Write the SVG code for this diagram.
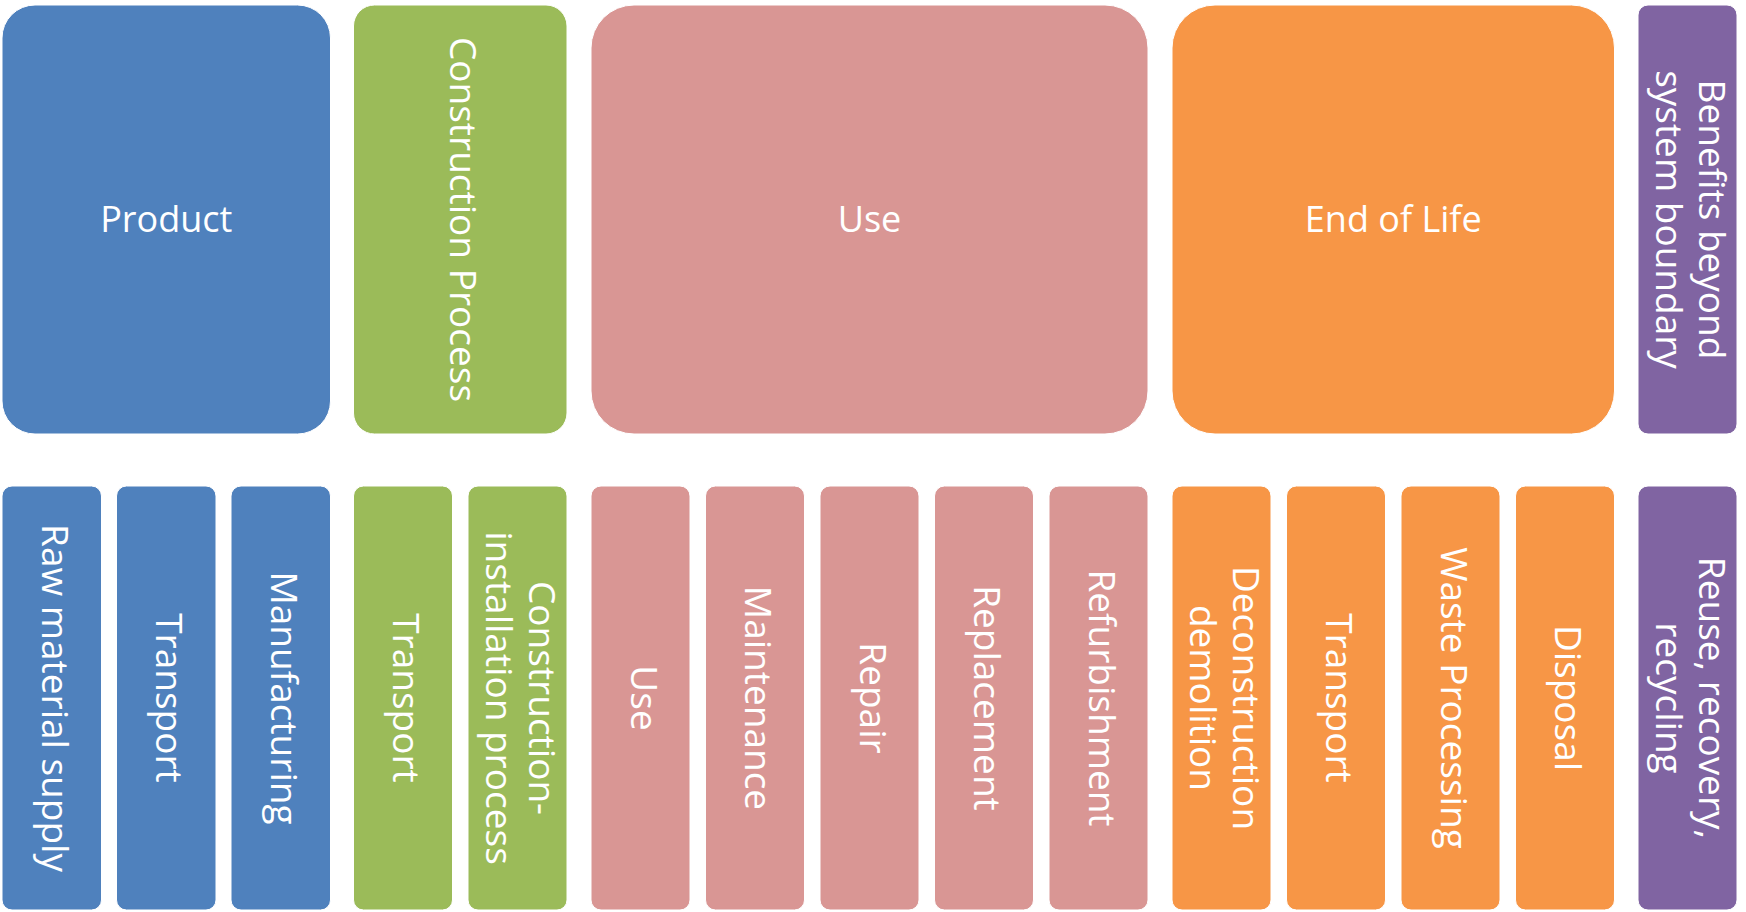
<svg xmlns="http://www.w3.org/2000/svg" width="1746" height="912" viewBox="0 0 1746 912">
  <style>
    .blue{fill:#4F81BD}
    .green{fill:#9BBB59}
    .pink{fill:#D99694}
    .orange{fill:#F79646}
    .purple{fill:#8064A2}
    .box{stroke:#ffffff;stroke-width:1}
    .lbl{fill:#ffffff;font-family:"Open Sans","Noto Sans","Liberation Sans",sans-serif;font-size:36px;text-anchor:middle}
    .rot{font-size:37px}
  </style>
  <rect width="1746" height="912" fill="#ffffff"/>
  <g id="connectors"/>

  <!-- Top row -->
  <g id="product">
    <rect class="box blue" x="2" y="5" width="328.5" height="429" rx="33" ry="33"/>
    <text class="lbl" x="166.25" y="232">Product</text>
  </g>
  <g id="construction-process">
    <rect class="box green" x="353.5" y="5" width="213.5" height="429" rx="21" ry="21"/>
    <g transform="translate(460.25 219.5) rotate(90)"><text class="lbl rot" x="0" y="10">Construction Process</text></g>
  </g>
  <g id="use-stage">
    <rect class="box pink" x="591" y="5" width="557" height="429" rx="43" ry="43"/>
    <text class="lbl" x="869.5" y="232">Use</text>
  </g>
  <g id="end-of-life">
    <rect class="box orange" x="1172" y="5" width="442.5" height="429" rx="43" ry="43"/>
    <text class="lbl" x="1393.25" y="232">End of Life</text>
  </g>
  <g id="benefits">
    <rect class="box purple" x="1638" y="5" width="99" height="429" rx="10" ry="10"/>
    <g transform="translate(1687.5 219.5) rotate(90)"><text class="lbl rot" x="0" y="10"><tspan x="0" dy="-21.5">Benefits beyond</tspan><tspan x="0" dy="43">system boundary</tspan></text></g>
  </g>

  <!-- Bottom row -->
  <g id="raw-material-supply">
    <rect class="box blue" x="2" y="486" width="99.5" height="424" rx="10" ry="10"/>
    <g transform="translate(51.75 698) rotate(90)"><text class="lbl rot" x="0" y="10">Raw material supply</text></g>
  </g>
  <g id="transport-a2">
    <rect class="box blue" x="116.5" y="486" width="99.5" height="424" rx="10" ry="10"/>
    <g transform="translate(166.25 698) rotate(90)"><text class="lbl rot" x="0" y="10">Transport</text></g>
  </g>
  <g id="manufacturing">
    <rect class="box blue" x="231" y="486" width="99.5" height="424" rx="10" ry="10"/>
    <g transform="translate(280.75 698) rotate(90)"><text class="lbl rot" x="0" y="10">Manufacturing</text></g>
  </g>
  <g id="transport-a4">
    <rect class="box green" x="353.5" y="486" width="99" height="424" rx="10" ry="10"/>
    <g transform="translate(403 698) rotate(90)"><text class="lbl rot" x="0" y="10">Transport</text></g>
  </g>
  <g id="construction-installation">
    <rect class="box green" x="468" y="486" width="99" height="424" rx="10" ry="10"/>
    <g transform="translate(517.5 698) rotate(90)"><text class="lbl rot" x="0" y="10"><tspan x="0" dy="-21.5">Construction-</tspan><tspan x="0" dy="43">installation process</tspan></text></g>
  </g>
  <g id="use">
    <rect class="box pink" x="591" y="486" width="99" height="424" rx="10" ry="10"/>
    <g transform="translate(640.5 698) rotate(90)"><text class="lbl rot" x="0" y="10">Use</text></g>
  </g>
  <g id="maintenance">
    <rect class="box pink" x="705.5" y="486" width="99" height="424" rx="10" ry="10"/>
    <g transform="translate(755 698) rotate(90)"><text class="lbl rot" x="0" y="10">Maintenance</text></g>
  </g>
  <g id="repair">
    <rect class="box pink" x="820" y="486" width="99" height="424" rx="10" ry="10"/>
    <g transform="translate(869.5 698) rotate(90)"><text class="lbl rot" x="0" y="10">Repair</text></g>
  </g>
  <g id="replacement">
    <rect class="box pink" x="934.5" y="486" width="99" height="424" rx="10" ry="10"/>
    <g transform="translate(984 698) rotate(90)"><text class="lbl rot" x="0" y="10">Replacement</text></g>
  </g>
  <g id="refurbishment">
    <rect class="box pink" x="1049" y="486" width="99" height="424" rx="10" ry="10"/>
    <g transform="translate(1098.5 698) rotate(90)"><text class="lbl rot" x="0" y="10">Refurbishment</text></g>
  </g>
  <g id="deconstruction">
    <rect class="box orange" x="1172" y="486" width="99" height="424" rx="10" ry="10"/>
    <g transform="translate(1221.5 698) rotate(90)"><text class="lbl rot" x="0" y="10"><tspan x="0" dy="-21.5">Deconstruction</tspan><tspan x="0" dy="43">demolition</tspan></text></g>
  </g>
  <g id="transport-c2">
    <rect class="box orange" x="1286.5" y="486" width="99" height="424" rx="10" ry="10"/>
    <g transform="translate(1336 698) rotate(90)"><text class="lbl rot" x="0" y="10">Transport</text></g>
  </g>
  <g id="waste-processing">
    <rect class="box orange" x="1401" y="486" width="99" height="424" rx="10" ry="10"/>
    <g transform="translate(1450.5 698) rotate(90)"><text class="lbl rot" x="0" y="10">Waste Processing</text></g>
  </g>
  <g id="disposal">
    <rect class="box orange" x="1515.5" y="486" width="99" height="424" rx="10" ry="10"/>
    <g transform="translate(1565 698) rotate(90)"><text class="lbl rot" x="0" y="10">Disposal</text></g>
  </g>
  <g id="reuse-recovery-recycling">
    <rect class="box purple" x="1638" y="486" width="99" height="424" rx="10" ry="10"/>
    <g transform="translate(1687.5 698) rotate(90)"><text class="lbl rot" x="0" y="10"><tspan x="0" dy="-21.5">Reuse, recovery,</tspan><tspan x="0" dy="43">recycling</tspan></text></g>
  </g>
</svg>
